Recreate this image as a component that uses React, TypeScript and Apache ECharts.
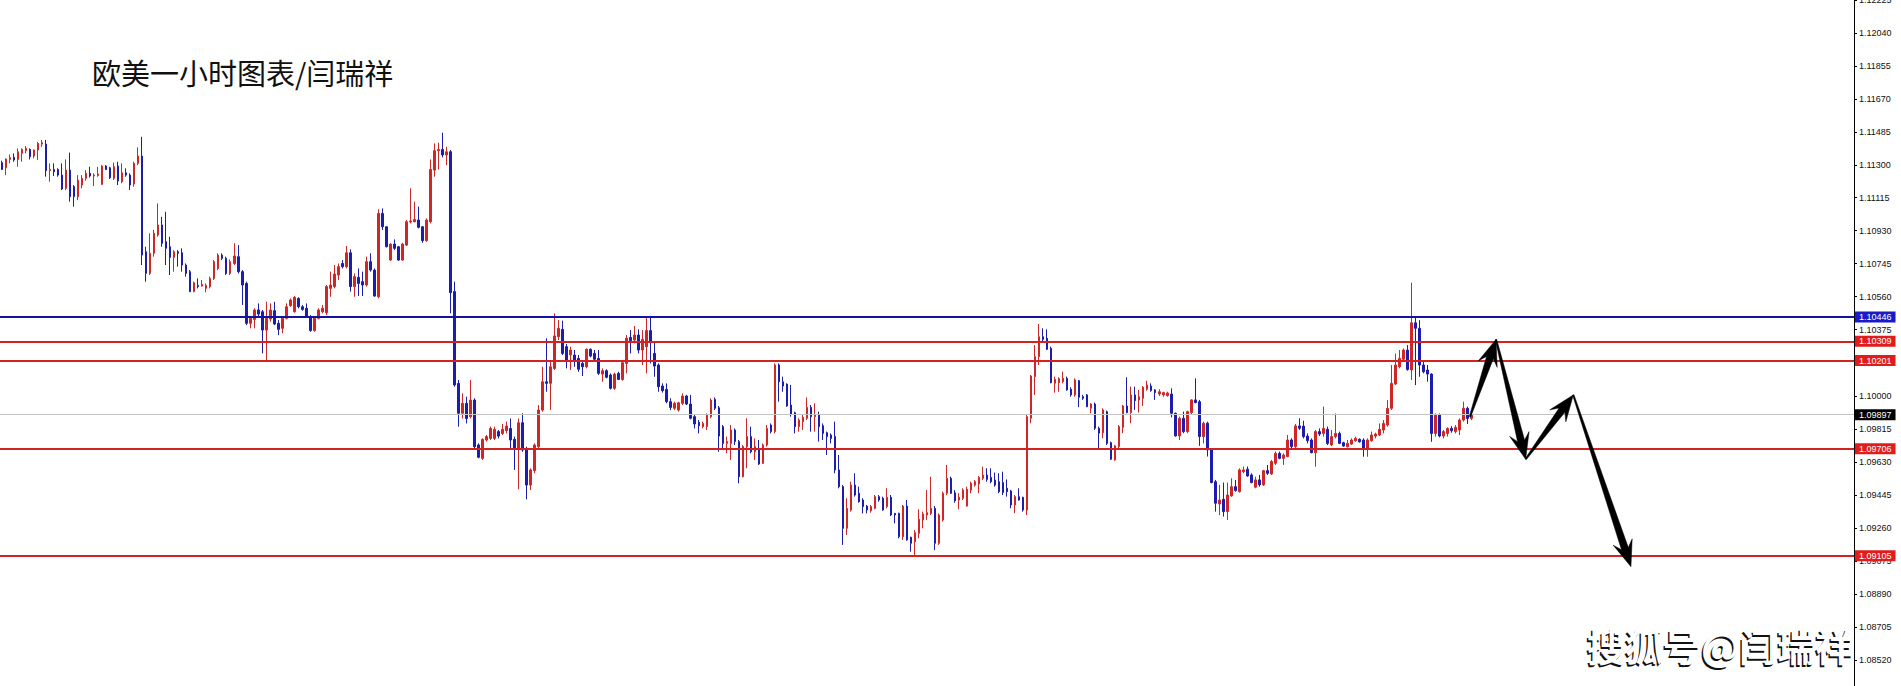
import React, { useEffect, useRef } from 'react';
import * as echarts from 'echarts';

// ---- Candle data (EURUSD H1) ----
const opens = [
  1.11312,1.11283,1.11330,1.11342,1.11330,1.11364,1.11379,1.11386,1.11349,1.11383,
  1.11416,1.11416,1.11267,1.11274,1.11274,1.11242,1.11168,1.11270,1.11177,1.11121,
  1.11186,1.11224,1.11252,1.11237,1.11240,1.11190,1.11293,1.11283,1.11224,1.11293,
  1.11205,1.11255,1.11242,1.11192,1.11308,1.11349,1.10812,1.10690,1.10803,1.10906,
  1.10962,1.10868,1.10840,1.10780,1.10812,1.10806,1.10737,1.10700,1.10588,1.10623,
  1.10619,1.10606,1.10616,1.10662,1.10718,1.10793,1.10775,1.10690,1.10746,1.10784,
  1.10700,1.10634,1.10410,1.10432,1.10485,1.10475,1.10372,1.10434,1.10481,1.10410,
  1.10382,1.10438,1.10509,1.10475,1.10550,1.10503,1.10494,1.10447,1.10369,1.10438,
  1.10475,1.10470,1.10606,1.10616,1.10681,1.10746,1.10728,1.10806,1.10616,1.10668,
  1.10644,1.10625,1.10756,1.10709,1.10559,1.11027,1.10952,1.10765,1.10855,1.10840,
  1.10765,1.10849,1.10979,1.10980,1.10990,1.10952,1.10874,1.10980,1.11270,1.11379,
  1.11386,1.11355,1.11373,1.10588,1.10073,1.09905,1.09961,1.09886,1.09979,1.09727,
  1.09652,1.09755,1.09764,1.09764,1.09802,1.09792,1.09807,1.09820,1.09759,1.09708,
  1.09852,1.09708,1.09502,1.09583,1.09717,1.09923,1.10082,1.10073,1.10157,1.10335,
  1.10376,1.10279,1.10232,1.10232,1.10213,1.10185,1.10166,1.10264,1.10241,1.10213,
  1.10125,1.10144,1.10120,1.10045,1.10129,1.10095,1.10185,1.10331,1.10316,1.10344,
  1.10260,1.10279,1.10369,1.10241,1.10176,1.10058,1.10039,1.09970,1.09933,1.09923,
  1.09961,1.10002,1.09957,1.09886,1.09854,1.09830,1.09830,1.09886,1.09983,1.09936,
  1.09830,1.09736,1.09736,1.09811,1.09746,1.09549,1.09718,1.09774,1.09689,1.09708,
  1.09624,1.09727,1.09839,1.09802,1.10176,1.10082,1.10069,1.09951,1.09908,1.09830,
  1.09858,1.09877,1.09938,1.09886,1.09895,1.09835,1.09796,1.09783,1.09774,1.09587,
  1.09493,1.09259,1.09362,1.09502,1.09456,1.09418,1.09384,1.09358,1.09371,1.09437,
  1.09428,1.09381,1.09433,1.09343,1.09343,1.09212,1.09384,1.09209,1.09184,1.09231,
  1.09306,1.09334,1.09343,1.09371,1.09175,1.09306,1.09456,1.09540,1.09459,1.09418,
  1.09428,1.09384,1.09474,1.09502,1.09508,1.09540,1.09558,1.09545,1.09530,1.09521,
  1.09516,1.09484,1.09469,1.09390,1.09437,1.09433,1.09362,1.09877,1.10111,1.10223,
  1.10335,1.10326,1.10270,1.10073,1.10077,1.10083,1.10101,1.10040,1.10008,1.10088,
  1.09998,1.10008,1.09933,1.09957,1.09821,1.09796,1.09914,1.09740,1.09643,1.09718,
  1.09826,1.09946,1.09909,1.10008,1.09980,1.09989,1.10040,1.10058,1.10036,1.10013,
  1.10008,1.10004,1.10013,1.09905,1.09778,1.09877,1.09802,1.09909,1.09980,1.09970,
  1.09774,1.09849,1.09703,1.09521,1.09396,1.09422,1.09353,1.09441,1.09493,1.09465,
  1.09577,1.09591,1.09559,1.09490,1.09531,1.09503,1.09583,1.09564,1.09624,1.09680,
  1.09652,1.09662,1.09755,1.09718,1.09834,1.09833,1.09777,1.09755,1.09684,1.09802,
  1.09792,1.09815,1.09727,1.09774,1.09792,1.09740,1.09717,1.09732,1.09751,1.09759,
  1.09755,1.09708,1.09751,1.09777,1.09783,1.09811,1.09839,1.09933,1.10069,1.10166,
  1.10208,1.10260,1.10148,1.10413,1.10382,1.10176,1.10148,1.10125,1.09792,1.09895,
  1.09777,1.09792,1.09820,1.09802,1.09811,1.09867,1.09933,1.09876
];

const closes = [
  1.11274,1.11332,1.11340,1.11327,1.11373,1.11386,1.11392,1.11345,1.11383,1.11420,
  1.11424,1.11267,1.11274,1.11261,1.11242,1.11164,1.11270,1.11121,1.11121,1.11214,
  1.11224,1.11252,1.11237,1.11242,1.11248,1.11293,1.11274,1.11227,1.11289,1.11209,
  1.11255,1.11242,1.11186,1.11308,1.11349,1.10793,1.10690,1.10803,1.10915,1.10962,
  1.10859,1.10831,1.10780,1.10812,1.10803,1.10737,1.10690,1.10588,1.10638,1.10616,
  1.10629,1.10623,1.10662,1.10756,1.10793,1.10775,1.10690,1.10756,1.10788,1.10700,
  1.10625,1.10410,1.10438,1.10485,1.10462,1.10372,1.10438,1.10485,1.10406,1.10376,
  1.10438,1.10503,1.10541,1.10556,1.10503,1.10488,1.10447,1.10369,1.10438,1.10485,
  1.10494,1.10616,1.10625,1.10687,1.10728,1.10728,1.10806,1.10616,1.10672,1.10634,
  1.10625,1.10756,1.10709,1.10563,1.11027,1.10952,1.10840,1.10855,1.10831,1.10765,
  1.10855,1.10980,1.10984,1.10993,1.10949,1.10874,1.10990,1.11274,1.11379,1.11386,
  1.11355,1.11373,1.10582,1.10064,1.09905,1.09961,1.09876,1.09979,1.09717,1.09658,
  1.09759,1.09774,1.09820,1.09815,1.09777,1.09815,1.09833,1.09755,1.09708,1.09852,
  1.09699,1.09502,1.09587,1.09727,1.09923,1.10082,1.10073,1.10166,1.10339,1.10382,
  1.10241,1.10204,1.10260,1.10204,1.10152,1.10166,1.10264,1.10226,1.10208,1.10129,
  1.10144,1.10107,1.10045,1.10125,1.10095,1.10189,1.10326,1.10312,1.10344,1.10260,
  1.10320,1.10369,1.10307,1.10170,1.10054,1.10032,1.09970,1.09938,1.09961,1.09964,
  1.10002,1.09957,1.09877,1.09845,1.09835,1.09848,1.09895,1.09979,1.09933,1.09777,
  1.09736,1.09746,1.09811,1.09746,1.09549,1.09718,1.09774,1.09689,1.09718,1.09620,
  1.09727,1.09820,1.09802,1.10176,1.10082,1.10058,1.09946,1.09901,1.09830,1.09867,
  1.09882,1.09938,1.09886,1.09895,1.09830,1.09792,1.09774,1.09764,1.09587,1.09493,
  1.09259,1.09371,1.09502,1.09446,1.09409,1.09381,1.09362,1.09381,1.09437,1.09418,
  1.09362,1.09433,1.09334,1.09334,1.09212,1.09384,1.09194,1.09175,1.09235,1.09310,
  1.09340,1.09347,1.09371,1.09175,1.09334,1.09456,1.09540,1.09456,1.09414,1.09433,
  1.09474,1.09478,1.09512,1.09521,1.09545,1.09558,1.09534,1.09521,1.09502,1.09465,
  1.09460,1.09465,1.09390,1.09437,1.09418,1.09362,1.09886,1.10114,1.10223,1.10335,
  1.10320,1.10264,1.10077,1.10096,1.10099,1.10101,1.10036,1.10008,1.10092,1.09995,
  1.09989,1.09942,1.09957,1.09821,1.09793,1.09924,1.09736,1.09647,1.09722,1.09830,
  1.09946,1.09909,1.10008,1.09976,1.09998,1.10051,1.10064,1.10032,1.10021,1.10026,
  1.10021,1.10019,1.09905,1.09778,1.09877,1.09802,1.09914,1.09980,1.09965,1.09774,
  1.09849,1.09699,1.09516,1.09400,1.09418,1.09353,1.09446,1.09493,1.09471,1.09587,
  1.09587,1.09553,1.09516,1.09531,1.09503,1.09583,1.09568,1.09634,1.09680,1.09652,
  1.09671,1.09755,1.09718,1.09834,1.09821,1.09774,1.09751,1.09684,1.09802,1.09788,
  1.09820,1.09736,1.09774,1.09792,1.09736,1.09721,1.09736,1.09755,1.09764,1.09745,
  1.09708,1.09755,1.09783,1.09788,1.09815,1.09848,1.09933,1.10073,1.10176,1.10213,
  1.10260,1.10151,1.10413,1.10382,1.10176,1.10138,1.10125,1.09792,1.09895,1.09777,
  1.09802,1.09820,1.09807,1.09826,1.09867,1.09933,1.09876,1.09895
];

const lows = [
  1.11270,1.11242,1.11308,1.11317,1.11289,1.11317,1.11364,1.11330,1.11336,1.11327,
  1.11401,1.11233,1.11205,1.11237,1.11233,1.11158,1.11158,1.11093,1.11065,1.11102,
  1.11168,1.11211,1.11229,1.11181,1.11233,1.11186,1.11270,1.11220,1.11214,1.11186,
  1.11196,1.11233,1.11158,1.11177,1.11298,1.10737,1.10644,1.10681,1.10784,1.10896,
  1.10840,1.10737,1.10681,1.10700,1.10728,1.10700,1.10672,1.10585,1.10584,1.10606,
  1.10616,1.10584,1.10606,1.10653,1.10709,1.10765,1.10681,1.10681,1.10737,1.10690,
  1.10513,1.10400,1.10382,1.10382,1.10447,1.10241,1.10204,1.10419,1.10400,1.10344,
  1.10354,1.10432,1.10503,1.10470,1.10494,1.10481,1.10443,1.10363,1.10363,1.10432,
  1.10466,1.10456,1.10559,1.10606,1.10653,1.10718,1.10718,1.10588,1.10559,1.10563,
  1.10563,1.10616,1.10700,1.10559,1.10550,1.10934,1.10836,1.10760,1.10821,1.10761,
  1.10761,1.10844,1.10971,1.10978,1.10943,1.10862,1.10868,1.10971,1.11233,1.11274,
  1.11341,1.11298,1.10466,1.10054,1.09830,1.09876,1.09848,1.09876,1.09708,1.09652,
  1.09643,1.09746,1.09755,1.09755,1.09764,1.09783,1.09792,1.09699,1.09587,1.09478,
  1.09689,1.09422,1.09474,1.09568,1.09708,1.09914,1.10026,1.09923,1.10148,1.10316,
  1.10232,1.10157,1.10148,1.10166,1.10138,1.10114,1.10157,1.10219,1.10204,1.10120,
  1.10082,1.10101,1.10039,1.10036,1.10092,1.10088,1.10129,1.10241,1.10297,1.10241,
  1.10176,1.10129,1.10185,1.10110,1.10026,1.10021,1.09961,1.09923,1.09923,1.09914,
  1.09951,1.09951,1.09871,1.09820,1.09792,1.09820,1.09811,1.09877,1.09923,1.09689,
  1.09699,1.09680,1.09643,1.09727,1.09512,1.09545,1.09596,1.09680,1.09643,1.09615,
  1.09620,1.09718,1.09792,1.09792,1.09970,1.10026,1.09942,1.09886,1.09792,1.09802,
  1.09811,1.09867,1.09802,1.09802,1.09746,1.09755,1.09671,1.09736,1.09568,1.09484,
  1.09166,1.09222,1.09353,1.09437,1.09403,1.09343,1.09343,1.09347,1.09366,1.09409,
  1.09358,1.09371,1.09328,1.09287,1.09203,1.09194,1.09190,1.09128,1.09109,1.09203,
  1.09259,1.09306,1.09334,1.09137,1.09166,1.09297,1.09446,1.09452,1.09403,1.09366,
  1.09418,1.09381,1.09456,1.09493,1.09456,1.09530,1.09521,1.09512,1.09493,1.09456,
  1.09446,1.09437,1.09372,1.09344,1.09415,1.09353,1.09334,1.09849,1.10008,1.10176,
  1.10307,1.10260,1.10073,1.10021,1.10026,1.10073,1.10032,1.09998,1.09998,1.09939,
  1.09980,1.09939,1.09905,1.09811,1.09699,1.09765,1.09727,1.09643,1.09639,1.09708,
  1.09793,1.09905,1.09849,1.09924,1.09909,1.09946,1.10032,1.10026,1.09980,1.10002,
  1.09998,1.09998,1.09882,1.09774,1.09755,1.09793,1.09793,1.09896,1.09961,1.09722,
  1.09736,1.09662,1.09512,1.09353,1.09334,1.09325,1.09306,1.09437,1.09465,1.09460,
  1.09568,1.09549,1.09512,1.09484,1.09493,1.09497,1.09559,1.09559,1.09615,1.09647,
  1.09615,1.09658,1.09699,1.09708,1.09811,1.09764,1.09736,1.09680,1.09605,1.09777,
  1.09774,1.09727,1.09721,1.09764,1.09732,1.09717,1.09714,1.09727,1.09745,1.09740,
  1.09661,1.09661,1.09745,1.09764,1.09777,1.09792,1.09830,1.09923,1.10063,1.10157,
  1.10194,1.10144,1.10092,1.10063,1.10110,1.10129,1.10082,1.09745,1.09774,1.09770,
  1.09764,1.09774,1.09796,1.09792,1.09783,1.09858,1.09845,1.09867
];

const highs = [
  1.11323,1.11336,1.11358,1.11364,1.11392,1.11392,1.11405,1.11392,1.11386,1.11428,
  1.11439,1.11439,1.11308,1.11308,1.11280,1.11308,1.11330,1.11368,1.11186,1.11242,
  1.11242,1.11270,1.11289,1.11252,1.11289,1.11298,1.11298,1.11289,1.11312,1.11317,
  1.11308,1.11280,1.11252,1.11317,1.11398,1.11457,1.10840,1.10915,1.10934,1.11083,
  1.11008,1.11036,1.10896,1.10821,1.10821,1.10831,1.10746,1.10709,1.10644,1.10662,
  1.10653,1.10634,1.10672,1.10765,1.10803,1.10803,1.10784,1.10769,1.10859,1.10849,
  1.10709,1.10644,1.10447,1.10494,1.10522,1.10485,1.10531,1.10522,1.10531,1.10428,
  1.10447,1.10522,1.10550,1.10563,1.10556,1.10513,1.10522,1.10456,1.10447,1.10494,
  1.10513,1.10625,1.10700,1.10737,1.10746,1.10765,1.10844,1.10825,1.10690,1.10718,
  1.10700,1.10784,1.10803,1.10718,1.11050,1.11055,1.10956,1.10859,1.10881,1.10844,
  1.10862,1.10990,1.11168,1.11093,1.11065,1.10956,1.10999,1.11330,1.11420,1.11424,
  1.11480,1.11401,1.11383,1.10644,1.10092,1.10017,1.09998,1.10092,1.09989,1.09736,
  1.09764,1.09783,1.09830,1.09830,1.09811,1.09845,1.09858,1.09876,1.09774,1.09876,
  1.09905,1.09717,1.09596,1.09736,1.09951,1.10166,1.10326,1.10204,1.10466,1.10428,
  1.10425,1.10294,1.10279,1.10260,1.10232,1.10204,1.10269,1.10269,1.10260,1.10260,
  1.10157,1.10152,1.10129,1.10133,1.10138,1.10195,1.10344,1.10372,1.10395,1.10376,
  1.10372,1.10447,1.10447,1.10307,1.10185,1.10073,1.10073,1.09989,1.09970,1.09970,
  1.10017,1.10008,1.10008,1.09895,1.09867,1.09858,1.09905,1.09989,1.09994,1.09946,
  1.09839,1.09774,1.09839,1.09820,1.09755,1.09727,1.09877,1.09830,1.09764,1.09755,
  1.09736,1.09839,1.09848,1.10185,1.10185,1.10110,1.10073,1.10064,1.09914,1.09877,
  1.09895,1.09994,1.09951,1.09961,1.09914,1.09848,1.09802,1.09792,1.09858,1.09671,
  1.09502,1.09428,1.09521,1.09568,1.09493,1.09428,1.09390,1.09390,1.09446,1.09446,
  1.09437,1.09484,1.09446,1.09345,1.09347,1.09390,1.09418,1.09212,1.09250,1.09366,
  1.09353,1.09474,1.09549,1.09384,1.09343,1.09465,1.09615,1.09549,1.09474,1.09456,
  1.09484,1.09493,1.09521,1.09530,1.09553,1.09605,1.09596,1.09596,1.09572,1.09568,
  1.09577,1.09534,1.09475,1.09446,1.09484,1.09437,1.09896,1.10120,1.10288,1.10406,
  1.10382,1.10376,1.10279,1.10111,1.10107,1.10139,1.10111,1.10051,1.10101,1.10092,
  1.10008,1.10013,1.09961,1.09965,1.09830,1.09933,1.09920,1.09746,1.09727,1.09839,
  1.09952,1.10107,1.10055,1.10055,1.10036,1.10058,1.10088,1.10073,1.10040,1.10040,
  1.10026,1.10026,1.10045,1.09909,1.09886,1.09914,1.09920,1.09983,1.10101,1.09980,
  1.09858,1.09858,1.09708,1.09531,1.09503,1.09516,1.09516,1.09540,1.09531,1.09596,
  1.09606,1.09606,1.09568,1.09549,1.09559,1.09587,1.09615,1.09643,1.09690,1.09690,
  1.09680,1.09783,1.09765,1.09845,1.09877,1.09863,1.09792,1.09764,1.09811,1.09820,
  1.09942,1.09830,1.09811,1.09904,1.09802,1.09745,1.09755,1.09764,1.09774,1.09764,
  1.09764,1.09764,1.09802,1.09796,1.09848,1.09867,1.09979,1.10176,1.10241,1.10260,
  1.10269,1.10288,1.10638,1.10447,1.10428,1.10204,1.10176,1.10129,1.09904,1.09904,
  1.09811,1.09826,1.09833,1.09839,1.09876,1.09970,1.09942,1.09908
];

// number of hourly slots on the time axis (candles + empty space on the right)
const slotCount = 463;

// price axis
const yMin = 1.08374;
const yMax = 1.12225;
const yTicks = [
  1.08520, 1.08705, 1.08890, 1.09075, 1.09260, 1.09445, 1.09630, 1.09815, 1.10000,
  1.10190, 1.10375, 1.10560, 1.10745, 1.10930, 1.11115, 1.11300, 1.11485, 1.11670,
  1.11855, 1.12040, 1.12225
];

// horizontal levels
const blueLevels = [1.10446];
const redLevels = [1.10309, 1.10201, 1.09706, 1.09105];
const currentPrice = 1.09897;

// projected path (arrows): slot index and price of each waypoint
const arrowSlots = [366.6, 373.1, 380.5, 392.4, 406.8];
const arrowPrices = [1.09886, 1.10319, 1.09647, 1.10008, 1.09044];

const titleText = '欧美一小时图表/闫瑞祥';
const watermarkText = '搜狐号@闫瑞祥';

const RED = '#cf2727';
const BLUE = '#1c1cae';
const LINE_RED = '#d42222';
const LINE_BLUE = '#1212a6';
const BOX_RED = '#e01c1c';
const BOX_BLUE = '#1a1ac8';

export default function App() {
  const ref = useRef<HTMLDivElement>(null);

  useEffect(() => {
    if (!ref.current) return;
    const chart = echarts.init(ref.current, undefined, { renderer: 'svg' });

    const categories = Array.from({ length: slotCount }, (_, i) => String(i));
    const candleData = opens.map((o, i) => [o, closes[i], lows[i], highs[i]]);
    const segments = arrowSlots.slice(1).map((x, k) => [
      arrowSlots[k], arrowPrices[k], x, arrowPrices[k + 1]
    ]);

    const boxLabel = (bg: string) => ({
      show: true,
      position: 'end',
      distance: 1,
      formatter: (p: any) => Number(p.value).toFixed(5),
      color: '#fff',
      backgroundColor: bg,
      padding: [1, 4, 1, 4],
      fontSize: 9,
      lineHeight: 9,
      fontFamily: 'Liberation Sans, Arial, sans-serif'
    });

    const markData: any[] = [
      ...blueLevels.map((v) => ({
        yAxis: v,
        lineStyle: { color: LINE_BLUE, width: 2, type: 'solid' },
        label: boxLabel(BOX_BLUE)
      })),
      ...redLevels.map((v) => ({
        yAxis: v,
        lineStyle: { color: LINE_RED, width: 2, type: 'solid' },
        label: boxLabel(BOX_RED)
      })),
      {
        yAxis: currentPrice,
        lineStyle: { color: '#c4c4c4', width: 1, type: 'solid' },
        label: boxLabel('#000')
      }
    ];

    const option: any = {
      animation: false,
      backgroundColor: '#fff',
      grid: { left: 0, right: 47, top: 0, bottom: 0, containLabel: false, outerBoundsMode: 'none' },
      xAxis: [
        { type: 'category', data: categories, show: false, boundaryGap: true },
        { type: 'value', min: -0.5, max: slotCount - 0.5, show: false }
      ],
      yAxis: {
        type: 'value',
        position: 'right',
        min: yMin,
        max: yMax,
        scale: true,
        splitLine: { show: false },
        axisLine: { show: true, onZero: false, lineStyle: { color: '#000', width: 1 } },
        axisTick: { show: true, length: 3, customValues: yTicks, lineStyle: { color: '#000' } },
        axisLabel: {
          customValues: yTicks,
          formatter: (v: number) => v.toFixed(5),
          fontSize: 9,
          color: '#111',
          margin: 5,
          fontFamily: 'Liberation Sans, Arial, sans-serif'
        }
      },
      series: [
        {
          type: 'candlestick',
          data: candleData,
          barWidth: 2,
          clip: false,
          itemStyle: {
            color: RED,
            color0: BLUE,
            borderColor: RED,
            borderColor0: BLUE,
            borderWidth: 1
          },
          markLine: {
            silent: true,
            precision: 5,
            symbol: ['none', 'none'],
            animation: false,
            data: markData
          }
        },
        {
          type: 'custom',
          xAxisIndex: 1,
          yAxisIndex: 0,
          data: segments,
          encode: { x: [0, 2], y: [1, 3] },
          z: 10,
          silent: true,
          renderItem: (_params: any, api: any) => {
            const p0 = api.coord([api.value(0), api.value(1)]);
            const p1 = api.coord([api.value(2), api.value(3)]);
            const dx = p1[0] - p0[0];
            const dy = p1[1] - p0[1];
            const len = Math.hypot(dx, dy) || 1;
            const ux = dx / len, uy = dy / len;
            const nx = -uy, ny = ux;
            const wingBack = 26, neckBack = 19, wingHalf = 10, shaftHalf = 3.6, tailHalf = 0.7;
            const wx = p1[0] - ux * wingBack, wy = p1[1] - uy * wingBack;
            const kx = p1[0] - ux * neckBack, ky = p1[1] - uy * neckBack;
            const points = [
              [p0[0] + nx * tailHalf, p0[1] + ny * tailHalf],
              [kx + nx * shaftHalf, ky + ny * shaftHalf],
              [wx + nx * wingHalf, wy + ny * wingHalf],
              [p1[0], p1[1]],
              [wx - nx * wingHalf, wy - ny * wingHalf],
              [kx - nx * shaftHalf, ky - ny * shaftHalf],
              [p0[0] - nx * tailHalf, p0[1] - ny * tailHalf]
            ];
            return { type: 'polygon', shape: { points }, style: { fill: '#000', stroke: '#000', lineWidth: 0.5 } };
          }
        }
      ],
      graphic: [
        {
          type: 'text',
          x: 92,
          y: 72,
          style: {
            text: titleText,
            fontSize: 29,
            fontFamily: '"Noto Sans CJK SC", sans-serif',
            fill: '#111',
            align: 'left',
            verticalAlign: 'middle'
          }
        },
        {
          type: 'text',
          x: 1585.5,
          y: 646,
          z: 20,
          style: {
            text: watermarkText,
            fontSize: 38,
            fontWeight: 'bold',
            fontFamily: '"Noto Sans CJK SC", sans-serif',
            fill: '#111',
            align: 'left',
            verticalAlign: 'middle'
          }
        },
        {
          type: 'text',
          x: 1587,
          y: 644.5,
          z: 21,
          style: {
            text: watermarkText,
            fontSize: 38,
            fontWeight: 'bold',
            fontFamily: '"Noto Sans CJK SC", sans-serif',
            fill: '#fff',
            align: 'left',
            verticalAlign: 'middle'
          }
        }
      ]
    };

    chart.setOption(option);
    return () => chart.dispose();
  }, []);

  return (
    <div
      ref={ref}
      style={{ position: 'fixed', left: 0, top: 0, width: 1901, height: 686, background: '#fff' }}
    />
  );
}
